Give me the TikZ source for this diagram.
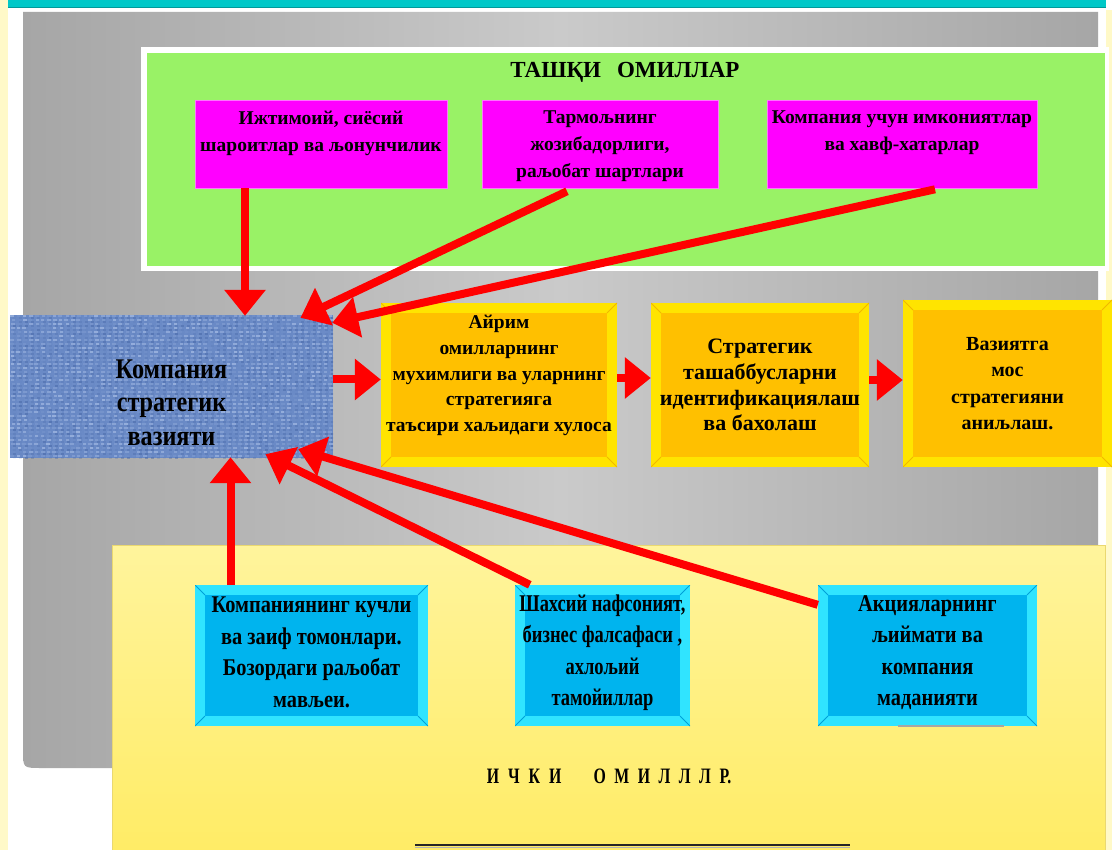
\documentclass[tikz,border=0pt]{standalone}
\usepackage{fontspec}
\setmainfont{Liberation Serif}
\newfontfamily\narrA{Liberation Serif}[FakeStretch=0.85]
\newfontfamily\narrB{Liberation Serif}[FakeStretch=0.77]
\newfontfamily\condf{Liberation Serif}[FakeStretch=0.72]
\usetikzlibrary{arrows.meta,calc}
\definecolor{cream}{HTML}{FFF9C8}
\definecolor{topcyan}{HTML}{00C8C8}
\definecolor{topcyanD}{HTML}{009A9A}
\definecolor{grayL}{HTML}{A6A6A6}
\definecolor{grayM}{HTML}{CACACA}
\definecolor{greenF}{HTML}{99F266}
\definecolor{magF}{HTML}{FF00FF}
\definecolor{blueF}{HTML}{6A8AC6}
\definecolor{blueL}{HTML}{B4C8EC}
\definecolor{blueD}{HTML}{3F5F9F}
\definecolor{orOut}{HTML}{FFE400}
\definecolor{orIn}{HTML}{FFC000}
\definecolor{orLine}{HTML}{F0B800}
\definecolor{cyOut}{HTML}{30E4FF}
\definecolor{cyIn}{HTML}{00B4EE}
\definecolor{cyLine}{HTML}{00A0D8}
\definecolor{yelT}{HTML}{FFF49C}
\definecolor{yelB}{HTML}{FFEC66}
\definecolor{yelD}{HTML}{EAD870}
\definecolor{arrRed}{HTML}{FF0000}
\newcommand\fmag{\bfseries\fontsize{19.5}{26.8}\selectfont}
\newcommand\fblue{\narrA\bfseries\fontsize{28.5}{33.5}\selectfont}
\newcommand\forg{\bfseries\fontsize{19.5}{25.8}\selectfont}
\newcommand\forgB{\bfseries\fontsize{22}{25.8}\selectfont}
\newcommand\forgC{\bfseries\fontsize{20}{26.6}\selectfont}
\newcommand\fcy{\narrA\bfseries\fontsize{24}{31.5}\selectfont}
\newcommand\fcyB{\narrB\bfseries\fontsize{24}{31.5}\selectfont}
\newcommand\sgap{\hspace{9pt}}
\newcommand\tgap{\hspace{8.5pt}}
\tikzset{
  bevel/.style n args={3}{path picture={
    \fill[#1] ([shift={(#3,-#3)}]path picture bounding box.north west) rectangle ([shift={(-#3,#3)}]path picture bounding box.south east);
    \draw[#2, line width=0.8pt]
      (path picture bounding box.north west) -- ++(#3,-#3)
      (path picture bounding box.north east) -- ++(-#3,-#3)
      (path picture bounding box.south west) -- ++(#3,#3)
      (path picture bounding box.south east) -- ++(-#3,#3);
  }},
  magbox/.style={draw=magF!55!white, line width=0.6pt, fill=magF, inner sep=0pt},
  orbox/.style={fill=orOut, inner sep=0pt, bevel={orIn}{orLine}{10pt}},
  cybox/.style={fill=cyOut, inner sep=0pt, bevel={cyIn}{cyLine}{10pt}},
  redarr/.style={draw=arrRed, line width=8pt, -{Triangle[length=26pt,width=40pt]}},
}
\begin{document}
\begin{tikzpicture}[x=1pt,y=-1pt]
\useasboundingbox (0,0) rectangle (1112,850);
% background
\fill[white] (0,0) rectangle (1112,850);
\fill[cream] (0,0) rectangle (8,850);
\fill[cream] (1106,10) rectangle (1112,850);
\fill[topcyan] (8,0) rectangle (1106,8);
\draw[topcyanD, line width=1.2pt] (8,7.5) -- (1106,7.5);
% gray panel
\shade[left color=grayL, right color=grayL, middle color=grayM]
  (23,12) -- (1098,12) -- (1098,768) -- (41,768) .. controls (23,768) .. (23,750) -- cycle;
% green panel
\fill[white] (141,47) rectangle (1109,271);
\fill[greenF] (147,53) rectangle (1105,266);
\node[font=\bfseries\fontsize{23}{28}\selectfont] (title) at (625,72) {ТАШҚИ\hspace{16pt}ОМИЛЛАР};
% magenta boxes
\node[magbox] (m1) at (321,144) {\parbox[c][88pt][t]{252pt}{\centering\fmag\vspace*{11pt}Ижтимоий, сиёсий\\шароитлар ва љонунчилик}};
\node[magbox] (m2) at (600,144) {\parbox[c][88pt][t]{236pt}{\centering\fmag\vspace*{11pt}Тармољнинг\\жозибадорлиги,\\раљобат шартлари}};
\node[magbox] (m3) at (902,144) {\parbox[c][88pt][t]{270pt}{\centering\fmag\vspace*{11pt}Компания учун имкониятлар\\ва хавф-хатарлар}};
% bottom yellow panel
\shade[top color=yelT, bottom color=yelB, draw=yelD, line width=0.6pt] (112,545) rectangle (1105,851);
% blue textured box
\node[fill=blueF, inner sep=0pt, minimum width=323pt, minimum height=143pt,
  path picture={
    \pgfmathsetseed{7}
    \foreach \i in {0,...,53}{
      \foreach \j in {0,...,35}{
        \pgfmathsetmacro\oa{rnd*0.6}
        \pgfmathsetmacro\ob{rnd*0.45}
        \pgfmathsetmacro\dx{rnd*2}
        \fill[blueL, opacity=\oa] ([shift={(\i*6pt+\dx pt,-\j*4pt)}]path picture bounding box.north west) rectangle ++(3.5pt,-2pt);
        \fill[blueD, opacity=\ob] ([shift={(\i*6pt+3pt,-\j*4pt-2pt)}]path picture bounding box.north west) rectangle ++(3pt,-2pt);
      }
    }
  }] (blue) at (171.5,386.5) {\parbox[c][143pt][c]{320pt}{\centering\fblue\vspace*{32pt}Компания\\стратегик\\вазияти}};
% orange boxes
\node[orbox] (oA) at (499,385) {\parbox[c][164pt][t]{236pt}{\centering\forg\vspace*{12pt}Айрим\\омилларнинг\\мухимлиги ва уларнинг\\стратегияга\\таъсири хаљидаги хулоса}};
\node[orbox] (oB) at (760,385) {\parbox[c][164pt][c]{218pt}{\centering\forgB Стратегик\\ташаббусларни\\идентификациялаш\\ва бахолаш}};
\node[orbox] (oC) at (1007.5,383.5) {\parbox[c][167pt][c]{209pt}{\centering\forgC Вазиятга\\мос\\стратегияни\\аниљлаш.}};
% cyan boxes
\node[cybox] (c1) at (311.5,655.5) {\parbox[c][141pt][c]{233pt}{\centering\fcy Компаниянинг кучли\\ва заиф томонлари.\\Бозордаги раљобат\\мављеи.\par\vspace{6pt}}};
\node[cybox] (c2) at (602.5,655.5) {\parbox[c][141pt][c]{175pt}{\centering\fcyB Шахсий нафсоният,\\бизнес фалсафаси ,\\ахлољий\\тамойиллар\par\vspace{6pt}}};
\node[cybox] (c3) at (927.5,655.5) {\parbox[c][141pt][c]{219pt}{\centering\fcy Акцияларнинг\\љиймати ва\\компания\\маданияти\par\vspace{6pt}}};
\draw[gray!70, line width=2pt] ([xshift=-30pt]c3.south) -- ([xshift=76pt]c3.south);
% bottom text
\node[font=\condf\bfseries\fontsize{22}{26}\selectfont] (inner) at (609,776)
  {И\sgap Ч\sgap К\sgap И\hspace{32pt}О\tgap М\tgap И\tgap Л\tgap Л\tgap Л\tgap Р.};
\coordinate (ulA) at (415,845);
\coordinate (ulB) at (850,845);
\draw[black!85, line width=2.2pt] (ulA) -- (ulB);
\draw[gray!60, line width=1pt] ([yshift=-2pt]ulA) -- ([yshift=-2pt]ulB);
% arrows top
\draw[redarr] ([xshift=-76pt]m1.south) -- ([xshift=-76pt,yshift=-1pt]m1.south |- blue.north);
\draw[redarr] ([xshift=-33pt,yshift=-3pt]m2.south) -- ([xshift=129pt,yshift=-3pt]blue.north);
\draw[redarr] ([xshift=33pt,yshift=-1pt]m3.south) -- ([xshift=-1pt,yshift=-8pt]blue.north east);
% arrows right
\draw[redarr] ([yshift=7pt]blue.east) -- ([yshift=7pt]blue.east -| oA.west);
\draw[redarr] ([yshift=7pt]oA.east) -- ([yshift=7pt]oA.east -| oB.west);
\draw[redarr] ([yshift=5pt]oB.east) -- ([yshift=5pt]oB.east -| oC.west);
% arrows bottom
\draw[redarr] ([xshift=-81pt]c1.north) -- ([xshift=-81pt,yshift=1pt]c1.north |- blue.south);
\draw[redarr] ([xshift=15pt]c2.north west) -- ([xshift=94pt,yshift=4pt]blue.south);
\draw[redarr] ([yshift=-20pt]c3.north west) -- ([xshift=-35pt,yshift=9pt]blue.south east);
\end{tikzpicture}
\end{document}
